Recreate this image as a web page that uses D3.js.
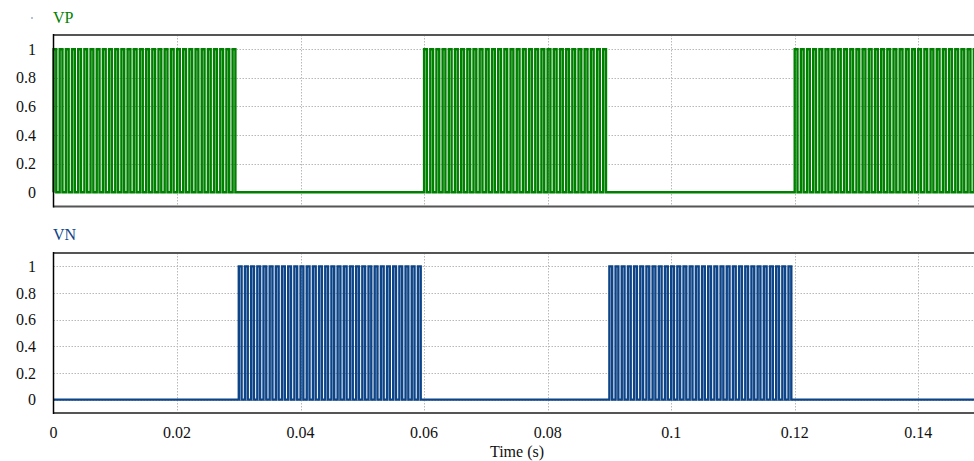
<!DOCTYPE html>
<html><head><meta charset="utf-8">
<script src="https://cdn.jsdelivr.net/npm/d3@7"></script>
<style>
html,body{margin:0;padding:0;background:#fff;overflow:hidden}
svg{display:block}
text{font-family:"Liberation Serif","DejaVu Serif","Times New Roman",serif}
</style></head>
<body>
<svg id="c" width="974" height="461"></svg>
<script>
// ---- data ----
const timeTicks = [0, 0.02, 0.04, 0.06, 0.08, 0.1, 0.12, 0.14];
const timeTickLabels = ["0", "0.02", "0.04", "0.06", "0.08", "0.1", "0.12", "0.14"];
const yTicks = [0, 0.2, 0.4, 0.6, 0.8, 1];
const yTickLabels = ["0", "0.2", "0.4", "0.6", "0.8", "1"];
const seriesNames = ["VP", "VN"];
const vpBursts = [[0, 0.03], [0.06, 0.09], [0.12, 0.15]];   // switching windows of VP
const vnBursts = [[0.03, 0.06], [0.09, 0.12]];              // switching windows of VN
const switchPeriod = 0.001;   // s
const dutyCycle = 0.45;
const tEnd = 0.15;

// build step waveform points from burst windows
function buildWave(bursts) {
  const pts = [[0, 0]];
  bursts.forEach(([a, b]) => {
    const n = Math.round((b - a) / switchPeriod);
    for (let k = 0; k < n; k++) {
      const t0 = a + k * switchPeriod, t1 = t0 + dutyCycle * switchPeriod;
      pts.push([t0, 0], [t0, 1], [t1, 1], [t1, 0]);
    }
    pts.push([b, 0]);
  });
  pts.push([tEnd, 0]);
  return pts;
}
const vpData = buildWave(vpBursts);
const vnData = buildWave(vnBursts);

// ---- layout ----
const FONT = '"Liberation Serif","DejaVu Serif","Times New Roman",serif';
const svg = d3.select("#c");
const left = 53.5, right = 980;
const x = d3.scaleLinear().domain([0, tEnd]).range([left, right]);
const panels = [
  {name: seriesNames[0], data: vpData, color: "#008000", top: 35, bottom: 206.5, labelY: 23},
  {name: seriesNames[1], data: vnData, color: "#0d4488", top: 253, bottom: 413, labelY: 240}
];

panels.forEach(p => {
  const y = d3.scaleLinear().domain([-0.1, 1.1]).range([p.bottom, p.top]);
  const g = svg.append("g");
  // grid
  g.selectAll(".hg").data(yTicks).join("line")
    .attr("x1", left).attr("x2", right)
    .attr("y1", d => Math.round(y(d)) + 0.5).attr("y2", d => Math.round(y(d)) + 0.5)
    .attr("stroke", "#b8b8b8").attr("stroke-width", 1).attr("stroke-dasharray", "1.5,1.5");
  g.selectAll(".vg").data(timeTicks.slice(1)).join("line")
    .attr("x1", d => Math.round(x(d)) + 0.5).attr("x2", d => Math.round(x(d)) + 0.5)
    .attr("y1", p.top).attr("y2", p.bottom)
    .attr("stroke", "#b8b8b8").attr("stroke-width", 1).attr("stroke-dasharray", "1.5,1.5");
  // y tick labels
  g.selectAll(".yl").data(yTicks).join("text")
    .attr("x", 36).attr("y", d => y(d)).attr("dy", "0.35em")
    .attr("text-anchor", "end").attr("font-size", 16).attr("font-family", FONT).attr("fill", "#111")
    .text((d, i) => yTickLabels[i]);
  // signal
  const line = d3.line().x(d => x(d[0])).y(d => y(d[1])).curve(d3.curveLinear);
  g.append("path").datum(p.data).attr("d", line)
    .attr("fill", "none").attr("stroke", p.color).attr("stroke-width", 2.4)
    .attr("stroke-linejoin", "miter");
  // frame
  g.append("line").attr("x1", left).attr("x2", right).attr("y1", p.top).attr("y2", p.top)
    .attr("stroke", "#555").attr("stroke-width", 2);
  g.append("line").attr("x1", left).attr("x2", right).attr("y1", p.bottom).attr("y2", p.bottom)
    .attr("stroke", "#555").attr("stroke-width", 2);
  g.append("line").attr("x1", left).attr("x2", left).attr("y1", p.top - 1).attr("y2", p.bottom + 1)
    .attr("stroke", "#000").attr("stroke-width", 1.5);
  // series label
  g.append("text").attr("x", 53).attr("y", p.labelY).attr("font-size", 16).attr("font-family", FONT)
    .attr("fill", p.color).text(p.name);
});

// small dot near top-left
svg.append("circle").attr("cx", 32).attr("cy", 18).attr("r", 0.8).attr("fill", "#4a78b0");

// x tick labels
svg.selectAll(".xl").data(timeTicks).join("text")
  .attr("x", d => x(d)).attr("y", 438).attr("text-anchor", "middle")
  .attr("font-size", 16).attr("font-family", FONT).attr("fill", "#111")
  .text((d, i) => timeTickLabels[i]);
svg.append("text").attr("x", 517).attr("y", 457).attr("text-anchor", "middle")
  .attr("font-size", 16).attr("font-family", FONT).attr("fill", "#111").text("Time (s)");
</script>
</body></html>
